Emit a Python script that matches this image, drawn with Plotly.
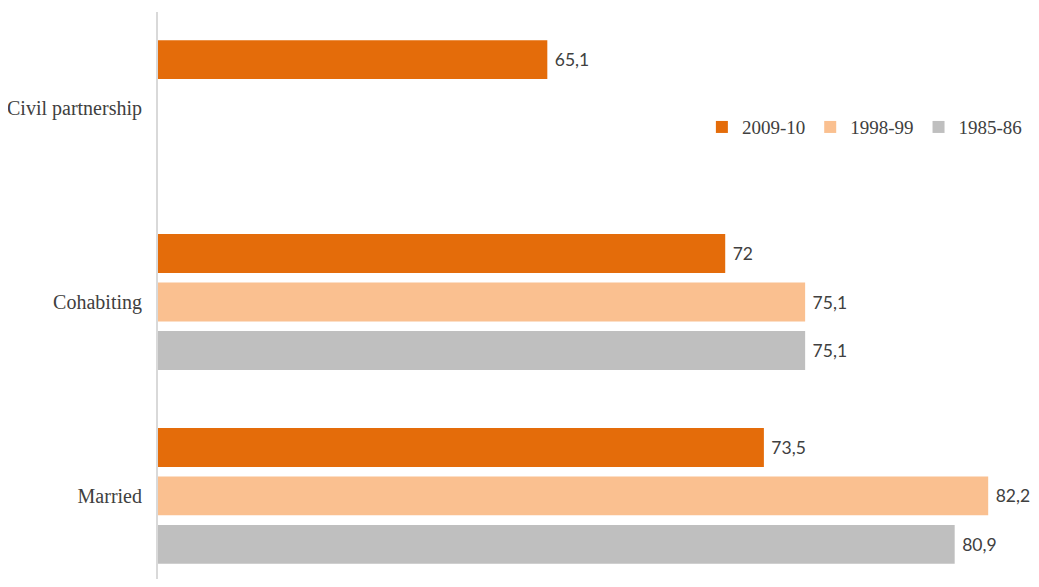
import plotly.graph_objects as go

categories = ["Civil partnership", "Cohabiting", "Married"]
series_names = ["2009-10", "1998-99", "1985-86"]
v_2009 = [65.1, 72.0, 73.5]
v_1998 = [None, 75.1, 82.2]
v_1985 = [None, 75.1, 80.9]
colors = ["#E46C0A", "#FAC090", "#BFBFBF"]

def fmt(v):
    if v is None:
        return ""
    return " " + f"{v:g}".replace(".", ",")

fig = go.Figure()
for name, vals, col in zip(series_names, [v_2009, v_1998, v_1985], colors):
    fig.add_trace(go.Bar(
        y=categories, x=vals, name=name, orientation="h",
        marker=dict(color=col, line=dict(width=0)),
        text=[fmt(v) for v in vals], textposition="outside",
        textfont=dict(family="Lato, Liberation Sans, sans-serif", size=17.5, color="#404040"),
        cliponaxis=False, constraintext="none",
    ))

fig.update_layout(
    width=1023, height=571,
    margin=dict(l=150, r=0, t=4, b=0, autoexpand=False),
    paper_bgcolor="white", plot_bgcolor="white",
    barmode="group", bargap=0.25, bargroupgap=0.2,
    showlegend=True,
    legend=dict(orientation="h", x=0.623, y=0.797, xanchor="left", yanchor="middle",
                font=dict(family="Liberation Serif, serif", size=19, color="#404040"),
                bgcolor="rgba(0,0,0,0)", itemwidth=30, traceorder="normal"),
    xaxis=dict(range=[50, 83.86], visible=False, showgrid=False, zeroline=False),
    yaxis=dict(type="category", categoryorder="array", categoryarray=categories,
               range=[2.428, -0.495], showline=True, linecolor="#D9D9D9", linewidth=2,
               showgrid=False, zeroline=False, ticks="", ticklabelstandoff=10,
               automargin=False,
               tickfont=dict(family="Liberation Serif, serif", size=20, color="#404040")),
)
fig.write_html("out.html")
